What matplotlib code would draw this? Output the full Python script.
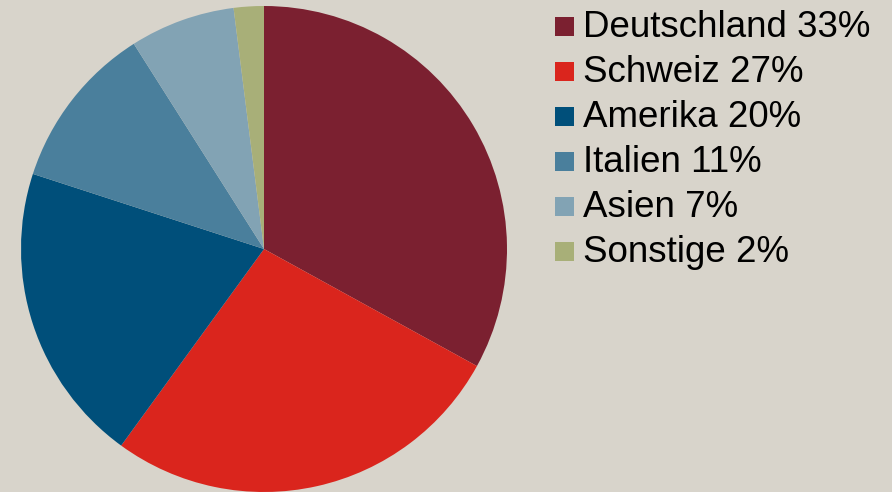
import matplotlib.pyplot as plt
from matplotlib.patches import Rectangle

# data
labels = ["Deutschland", "Schweiz", "Amerika", "Italien", "Asien", "Sonstige"]
shares = [33, 27, 20, 11, 7, 2]
colors = ["#7B2030", "#DA251D", "#004F7A", "#4A7F9C", "#82A3B4", "#A8AF78"]

bg = "#D8D4CB"
plt.rcParams['font.family'] = ['Liberation Sans', 'DejaVu Sans']

fig = plt.figure(figsize=(8.92, 4.92), dpi=100, facecolor=bg)

# pie axes placed in pixel terms: centre (264, 249), radius 243
W, H = 892, 492
cx, cy, r = 264, 249, 243
ax = fig.add_axes([(cx - r) / W, (H - cy - r) / H, 2 * r / W, 2 * r / H])
ax.pie(shares, colors=colors, startangle=90, counterclock=False,
       radius=1, wedgeprops=dict(linewidth=0))
ax.set_xlim(-1, 1)
ax.set_ylim(-1, 1)
ax.set_aspect('equal')
ax.axis('off')

# legend drawn by hand so the squares and text sit where the reference has them
sq = 19
row_gap = 45
for i, (lab, s, c) in enumerate(zip(labels, shares, colors)):
    top = 17 + row_gap * i
    fig.add_artist(Rectangle((555 / W, 1 - (top + sq) / H), sq / W, sq / H,
                             transform=fig.transFigure, facecolor=c,
                             edgecolor='none'))
    fig.text(583 / W, 1 - (37 + row_gap * i) / H, f"{lab} {s}%",
             fontsize=26.5, color='black', va='baseline', ha='left')

fig.savefig("out.png", dpi=100, facecolor=bg)
